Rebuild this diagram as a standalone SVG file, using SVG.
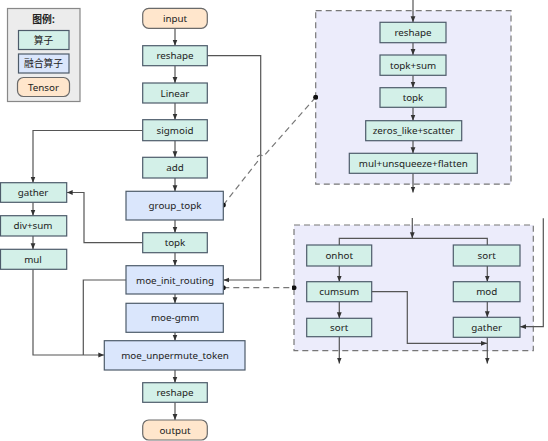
<svg xmlns="http://www.w3.org/2000/svg" width="548" height="441" viewBox="0 0 548 441">
<style>
text{font-family:"Noto Sans","Noto Sans CJK SC",sans-serif;font-size:9.8px;fill:#222;text-anchor:middle;dominant-baseline:central}
.op{fill:#d3f0e8;stroke:#4d5b6a;stroke-width:1.2}
.fop{fill:#dae6fc;stroke:#4d5b6a;stroke-width:1.2}
.ten{fill:#ffe6cc;stroke:#6a6a6a;stroke-width:1.2}
.grp{fill:#ececfb;stroke:#777;stroke-width:1.2;stroke-dasharray:6 4}
.c{fill:none;stroke:#555;stroke-width:1.2}
.d{fill:none;stroke:#777;stroke-width:1.2;stroke-dasharray:6 4}
</style>
<defs>
<marker id="a" viewBox="0 0 10 10" refX="10" refY="5" markerWidth="6" markerHeight="6" orient="auto" markerUnits="userSpaceOnUse"><path d="M0,1 L10,5 L0,9 z" fill="#333"/></marker>
<marker id="dot" viewBox="0 0 10 10" refX="5" refY="5" markerWidth="5" markerHeight="5" markerUnits="userSpaceOnUse"><circle cx="5" cy="5" r="5" fill="#111"/></marker>
</defs>
<g id="legend">
<rect x="7.5" y="8.5" width="72.5" height="93" fill="#ececec" stroke="#888" stroke-width="1.2"/>
<text x="43.5" y="19" style="font-weight:bold">图例:</text>
<rect class="op" x="18.5" y="30.5" width="50.5" height="19"/><text x="43.5" y="40">算子</text>
<rect class="fop" x="18.5" y="54" width="50.5" height="19"/><text x="43.5" y="63.5">融合算子</text>
<rect class="ten" x="17.5" y="77.5" width="52" height="19" rx="6"/><text x="43.5" y="87">Tensor</text>
</g>
<g id="containers">
<rect class="grp" x="315.7" y="10.7" width="195.3" height="173.5"/>
<rect class="grp" x="294" y="225" width="239.3" height="125.7"/>
</g>
<g id="connectors">
<path class="c" d="M175,28.3 V45.7" marker-end="url(#a)"/>
<path class="c" d="M175,65.7 V83" marker-end="url(#a)"/>
<path class="c" d="M175,103 V119.7" marker-end="url(#a)"/>
<path class="c" d="M175,140.7 V157.3" marker-end="url(#a)"/>
<path class="c" d="M175,178 V191.3" marker-end="url(#a)"/>
<path class="c" d="M175,220 V232.7" marker-end="url(#a)"/>
<path class="c" d="M175,252.7 V265.7" marker-end="url(#a)"/>
<path class="c" d="M175,294 V303.3" marker-end="url(#a)"/>
<path class="c" d="M175,332.3 V340.7" marker-end="url(#a)"/>
<path class="c" d="M175,370 V382.7" marker-end="url(#a)"/>
<path class="c" d="M175,402.3 V420" marker-end="url(#a)"/>
<path class="c" d="M142.7,130.5 H33 V182.7" marker-end="url(#a)"/>
<path class="c" d="M33,202.3 V215.7" marker-end="url(#a)"/>
<path class="c" d="M33,236 V249.3" marker-end="url(#a)"/>
<path class="c" d="M142.7,242.7 H84 V192.5 H66.7" marker-end="url(#a)"/>
<path class="c" d="M207.3,55.7 H260.7 V280 H223.3" marker-end="url(#a)"/>
<path class="c" d="M33,269.3 V355 H104.3" marker-end="url(#a)"/>
<path class="c" d="M126,280 H83.3 V355"/>
<path class="d" d="M223.3,205 L257.5,161.5 A3.5,3.5 0 0 1 263.5,156.5 L315.7,97.3" marker-start="url(#dot)" marker-end="url(#dot)"/>
<path class="d" d="M223.3,287.7 H294" marker-start="url(#dot)" marker-end="url(#dot)"/>
<path class="c" d="M413,0 V22.3" marker-end="url(#a)"/>
<path class="c" d="M413,42.7 V55" marker-end="url(#a)"/>
<path class="c" d="M413,75.3 V87.7" marker-end="url(#a)"/>
<path class="c" d="M413,107.3 V120.7" marker-end="url(#a)"/>
<path class="c" d="M413,140.7 V153.3" marker-end="url(#a)"/>
<path class="c" d="M413,173.3 V192.5" marker-end="url(#a)"/>
<path class="c" d="M412.3,218 V238.3" marker-end="url(#a)"/>
<path class="c" d="M339.3,245 V238.3 H487.3 V245"/>
<path class="c" d="M339.3,266 V281.7" marker-end="url(#a)"/>
<path class="c" d="M339.3,301.7 V318.3" marker-end="url(#a)"/>
<path class="c" d="M487.3,266 V281.7" marker-end="url(#a)"/>
<path class="c" d="M487.3,301.7 V317.3" marker-end="url(#a)"/>
<path class="c" d="M371.7,291.7 H407.3 V343.3 H487" marker-end="url(#a)"/>
<path class="c" d="M543.3,218.3 V326.7 H520" marker-end="url(#a)"/>
<path class="c" d="M339.3,336.7 V363.5" marker-end="url(#a)"/>
<path class="c" d="M487.3,337.3 V363.5" marker-end="url(#a)"/>
</g>
<g id="input"><rect class="ten" x="142.7" y="8.3" width="64.6" height="20" rx="6"/><text x="175" y="18.3">input</text></g>
<g id="reshape1"><rect class="op" x="142.7" y="45.7" width="64.6" height="20"/><text x="175" y="55.7">reshape</text></g>
<g id="linear"><rect class="op" x="142.7" y="83" width="64.6" height="20"/><text x="175" y="93">Linear</text></g>
<g id="sigmoid"><rect class="op" x="142.7" y="119.7" width="64.6" height="21"/><text x="175" y="130.2">sigmoid</text></g>
<g id="add"><rect class="op" x="142.7" y="157.3" width="64.6" height="20.7"/><text x="175" y="167.6">add</text></g>
<g id="group_topk"><rect class="fop" x="126" y="191.3" width="97.3" height="28.7"/><text x="175" y="205.6">group_topk</text></g>
<g id="topk"><rect class="op" x="142.7" y="232.7" width="64.6" height="20"/><text x="175" y="242.7">topk</text></g>
<g id="moe_init_routing"><rect class="fop" x="126" y="265.7" width="97.3" height="28.3"/><text x="175" y="280">moe_init_routing</text></g>
<g id="moe_gmm"><rect class="fop" x="126" y="303.3" width="97.3" height="29"/><text x="175" y="317.8">moe-gmm</text></g>
<g id="moe_unpermute_token"><rect class="fop" x="104.3" y="340.7" width="140.7" height="29.3"/><text x="175" y="355.3">moe_unpermute_token</text></g>
<g id="reshape2"><rect class="op" x="142.7" y="382.7" width="64.6" height="19.6"/><text x="175" y="392.5">reshape</text></g>
<g id="output"><rect class="ten" x="142.7" y="420" width="64.6" height="20" rx="6"/><text x="175" y="430">output</text></g>
<g id="gather_l"><rect class="op" x="0.5" y="182.7" width="66.2" height="19.6"/><text x="33" y="192.5">gather</text></g>
<g id="divsum"><rect class="op" x="0.5" y="215.7" width="66.2" height="20.3"/><text x="33" y="225.8">div+sum</text></g>
<g id="mul"><rect class="op" x="0.5" y="249.3" width="66.2" height="20"/><text x="33" y="259.3">mul</text></g>
<g id="g_reshape"><rect class="op" x="380" y="22.3" width="66" height="20.4"/><text x="413" y="32.5">reshape</text></g>
<g id="g_topksum"><rect class="op" x="380" y="55" width="66" height="20.3"/><text x="413" y="65.1">topk+sum</text></g>
<g id="g_topk"><rect class="op" x="380" y="87.7" width="66" height="19.6"/><text x="413" y="97.5">topk</text></g>
<g id="g_zeros"><rect class="op" x="365.7" y="120.7" width="96" height="20"/><text x="413.7" y="130.7">zeros_like+scatter</text></g>
<g id="g_mul"><rect class="op" x="349.3" y="153.3" width="128" height="20"/><text x="413.3" y="163.3">mul+unsqueeze+flatten</text></g>
<g id="r_onhot"><rect class="op" x="306.7" y="245" width="65" height="21"/><text x="339.2" y="255.5">onhot</text></g>
<g id="r_cumsum"><rect class="op" x="306.7" y="281.7" width="65" height="20"/><text x="339.2" y="291.7">cumsum</text></g>
<g id="r_sortl"><rect class="op" x="306.7" y="318.3" width="65" height="18.4"/><text x="339.2" y="327.5">sort</text></g>
<g id="r_sortr"><rect class="op" x="453.3" y="245" width="66.7" height="21"/><text x="486.7" y="255.5">sort</text></g>
<g id="r_mod"><rect class="op" x="453.3" y="281.7" width="66.7" height="20"/><text x="486.7" y="291.7">mod</text></g>
<g id="r_gather"><rect class="op" x="453.3" y="317.3" width="66.7" height="20"/><text x="486.7" y="327.3">gather</text></g>
</svg>
